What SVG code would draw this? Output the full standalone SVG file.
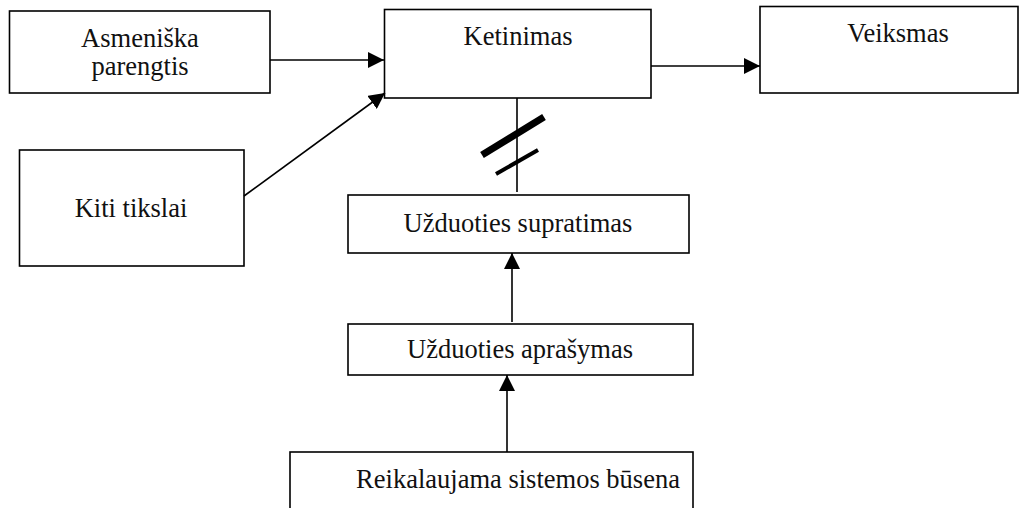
<svg xmlns="http://www.w3.org/2000/svg" width="1026" height="508" viewBox="0 0 1026 508">
<style>
.box{fill:#fff;stroke:#000;stroke-width:1.6}
.lbl{font-family:"Liberation Serif","Times New Roman",serif;font-size:26.5px;fill:#111;text-anchor:middle}
.con{stroke:#000;stroke-width:1.6;fill:none}
</style>
<defs>
<marker id="ah" markerUnits="userSpaceOnUse" markerWidth="16" markerHeight="16" viewBox="0 0 15 15" refX="15" refY="7.5" orient="auto">
<path d="M0,0 L15,7.5 L0,15 z" fill="#000"/>
</marker>
</defs>
<rect width="1026" height="508" fill="#fff"/>
<g id="n-asmeniska">
<rect class="box" x="9.5" y="11" width="260.5" height="82"/>
<text class="lbl" x="140" y="47">Asmeniška</text>
<text class="lbl" x="140" y="75">parengtis</text>
</g>
<g id="n-ketinimas">
<rect class="box" x="384.5" y="9.5" width="266.5" height="88.5"/>
<text class="lbl" x="518" y="45">Ketinimas</text>
</g>
<g id="n-veiksmas">
<rect class="box" x="760" y="6.5" width="258" height="86.5"/>
<text class="lbl" x="898" y="42">Veiksmas</text>
</g>
<g id="n-kiti">
<rect class="box" x="19.5" y="150" width="224.5" height="116"/>
<text class="lbl" x="131" y="217">Kiti tikslai</text>
</g>
<g id="n-supratimas">
<rect class="box" x="348" y="195" width="341" height="58"/>
<text class="lbl" x="518" y="232">Užduoties supratimas</text>
</g>
<g id="n-aprasymas">
<rect class="box" x="348" y="324" width="345" height="51"/>
<text class="lbl" x="520" y="358">Užduoties aprašymas</text>
</g>
<g id="n-reikalaujama">
<rect class="box" x="290" y="452" width="403" height="70"/>
<text class="lbl" x="518" y="488">Reikalaujama sistemos būsena</text>
</g>
<g id="connectors">
<line class="con" x1="270" y1="60" x2="384" y2="60" stroke-width="2.6" marker-end="url(#ah)"/>
<line class="con" x1="651" y1="66" x2="760" y2="66" marker-end="url(#ah)"/>
<line class="con" x1="244" y1="196" x2="385" y2="93" stroke-width="1.8" marker-end="url(#ah)"/>
<line class="con" x1="517" y1="98" x2="517" y2="192"/>
<line x1="482" y1="155" x2="544" y2="117" stroke="#000" stroke-width="7"/>
<line x1="496" y1="174" x2="538" y2="150" stroke="#000" stroke-width="4"/>
<line class="con" x1="512" y1="322" x2="512" y2="253" marker-end="url(#ah)"/>
<line class="con" x1="507" y1="452" x2="507" y2="375" marker-end="url(#ah)"/>
</g>
</svg>
